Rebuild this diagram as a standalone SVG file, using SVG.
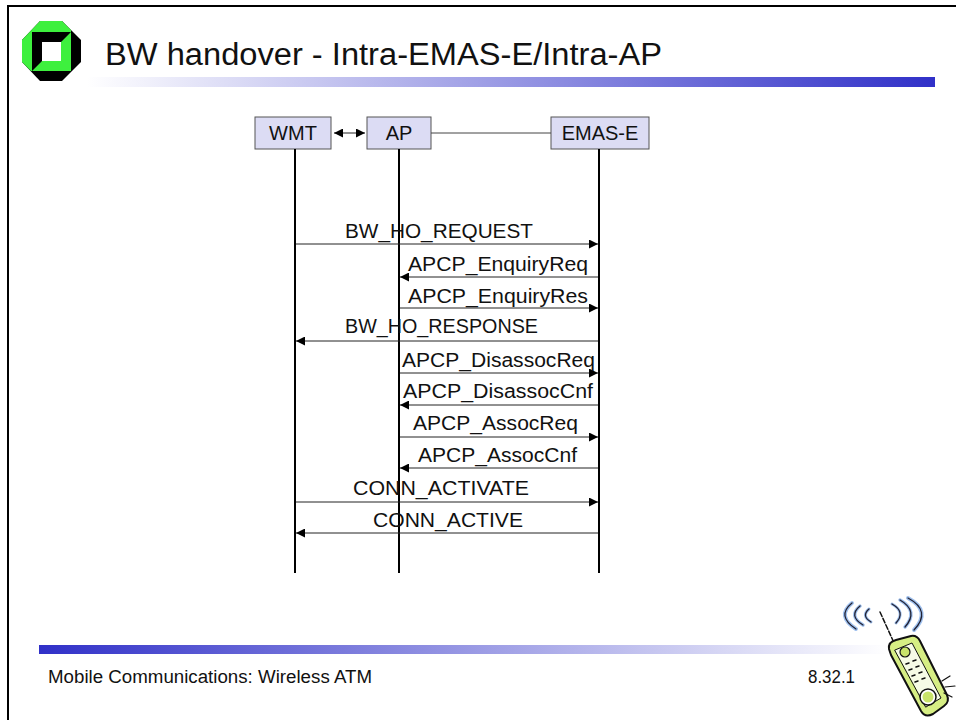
<svg xmlns="http://www.w3.org/2000/svg" width="956" height="720" viewBox="0 0 956 720">
  <style>
    .lbl { font-family: "Liberation Sans", Arial, sans-serif; font-size: 20px; fill: #111; }
    .box { fill: #dcdcf4; stroke: #555; stroke-width: 1; }
    .life { stroke: #000; stroke-width: 2; }
    .msg { stroke: #222; stroke-width: 1; fill: none; marker-end: url(#ah); }
    .mtxt { font-family: "Liberation Sans", Arial, sans-serif; font-size: 20px; fill: #111; }
    .foot { font-family: "Liberation Sans", Arial, sans-serif; font-size: 18px; fill: #111; }
  </style>
  <defs>
    <marker id="ah" viewBox="0 0 10 10" refX="10" refY="5" markerWidth="10" markerHeight="9" markerUnits="userSpaceOnUse" orient="auto-start-reverse">
      <path d="M0,0 L10,5 L0,10 z" fill="#000"/>
    </marker>
    <linearGradient id="topbar" x1="0" y1="0" x2="1" y2="0">
      <stop offset="0" stop-color="#ffffff"/>
      <stop offset="1" stop-color="#3030c8"/>
    </linearGradient>
    <linearGradient id="footbar" x1="0" y1="0" x2="1" y2="0">
      <stop offset="0" stop-color="#3030c8"/>
      <stop offset="1" stop-color="#ffffff"/>
    </linearGradient>
  </defs>

  <rect x="0" y="0" width="956" height="720" fill="#fff"/>

  <!-- slide frame -->
  <path d="M8,720 L8,6 L956,6" fill="none" stroke="#000" stroke-width="2"/>

  <!-- university logo -->
  <g id="logo">
    <polygon points="40,21 62,21 81,40 81,62 62,81 40,81 22,62 22,40" fill="#000"/>
    <polygon points="40,21 62,21 71,30 71,32 32,32 32,71 31,71 22,62 22,40" fill="#3ef03e"/>
    <polygon points="71,32 71,71 32,71 42,61 61,61 61,42" fill="#3ef03e"/>
    <rect x="42" y="42" width="19" height="19" fill="#fff"/>
  </g>

  <!-- title -->
  <text x="105" y="65" font-family="Liberation Sans, Arial, sans-serif" font-size="31" fill="#111" textLength="557" lengthAdjust="spacingAndGlyphs">BW handover - Intra-EMAS-E/Intra-AP</text>
  <rect x="87" y="77" width="848" height="10" fill="url(#topbar)"/>

  <!-- participants -->
  <g id="WMT">
    <rect class="box" x="255" y="117" width="76" height="32"/>
    <text class="lbl" x="293" y="140" text-anchor="middle">WMT</text>
    <line class="life" x1="295" y1="149" x2="295" y2="573"/>
  </g>
  <g id="AP">
    <rect class="box" x="367" y="117" width="64" height="32"/>
    <text class="lbl" x="399" y="140" text-anchor="middle">AP</text>
    <line class="life" x1="399" y1="149" x2="399" y2="573"/>
  </g>
  <g id="EMAS-E">
    <rect class="box" x="551" y="117" width="98" height="32"/>
    <text class="lbl" x="600" y="140" text-anchor="middle">EMAS-E</text>
    <line class="life" x1="599" y1="149" x2="599" y2="573"/>
  </g>

  <!-- connectors -->
  <g id="connectors">
    <line x1="334" y1="133" x2="365" y2="133" stroke="#222" stroke-width="1" marker-start="url(#ah)" marker-end="url(#ah)"/>
    <line x1="431" y1="133" x2="551" y2="133" stroke="#444" stroke-width="1"/>

    <line class="msg" x1="296" y1="244" x2="598" y2="244"/>
    <text class="mtxt" x="345" y="238" textLength="188" lengthAdjust="spacingAndGlyphs">BW_HO_REQUEST</text>

    <line class="msg" x1="598" y1="277" x2="400" y2="277"/>
    <text class="mtxt" x="408" y="271" textLength="180" lengthAdjust="spacingAndGlyphs">APCP_EnquiryReq</text>

    <line class="msg" x1="400" y1="308" x2="598" y2="308"/>
    <text class="mtxt" x="408" y="303" textLength="180" lengthAdjust="spacingAndGlyphs">APCP_EnquiryRes</text>

    <line class="msg" x1="598" y1="341" x2="296" y2="341"/>
    <text class="mtxt" x="345" y="333" textLength="193" lengthAdjust="spacingAndGlyphs">BW_HO_RESPONSE</text>

    <line class="msg" x1="400" y1="373" x2="598" y2="373"/>
    <text class="mtxt" x="402" y="367" textLength="193" lengthAdjust="spacingAndGlyphs">APCP_DisassocReq</text>

    <line class="msg" x1="598" y1="405" x2="400" y2="405"/>
    <text class="mtxt" x="403" y="398" textLength="190" lengthAdjust="spacingAndGlyphs">APCP_DisassocCnf</text>

    <line class="msg" x1="400" y1="437" x2="598" y2="437"/>
    <text class="mtxt" x="413" y="430" textLength="165" lengthAdjust="spacingAndGlyphs">APCP_AssocReq</text>

    <line class="msg" x1="598" y1="468" x2="400" y2="468"/>
    <text class="mtxt" x="418" y="462" textLength="159" lengthAdjust="spacingAndGlyphs">APCP_AssocCnf</text>

    <line class="msg" x1="296" y1="502" x2="598" y2="502"/>
    <text class="mtxt" x="353" y="495" textLength="176" lengthAdjust="spacingAndGlyphs">CONN_ACTIVATE</text>

    <line class="msg" x1="598" y1="533" x2="296" y2="533"/>
    <text class="mtxt" x="373" y="527" textLength="150" lengthAdjust="spacingAndGlyphs">CONN_ACTIVE</text>
  </g>

  <!-- footer -->
  <rect x="39" y="645" width="850" height="9" fill="url(#footbar)"/>
  <text class="foot" x="48" y="683" textLength="324" lengthAdjust="spacingAndGlyphs">Mobile Communications: Wireless ATM</text>
  <text class="foot" x="808" y="683" textLength="47" lengthAdjust="spacingAndGlyphs">8.32.1</text>

  <!-- handset clipart -->
  <g id="handset" stroke-linecap="round" stroke-linejoin="round">
    <!-- radio waves -->
    <path d="M852,603 Q836,616 856,629" fill="none" stroke="#9fc0ee" stroke-width="4"/>
    <path d="M852,603 Q836,616 856,629" fill="none" stroke="#223" stroke-width="1.3"/>
    <path d="M860,606 Q848,616 863,625" fill="none" stroke="#9fc0ee" stroke-width="3.5"/>
    <path d="M860,606 Q848,616 863,625" fill="none" stroke="#223" stroke-width="1.3"/>
    <path d="M869,609 Q861,616 871,622" fill="none" stroke="#9fc0ee" stroke-width="3"/>
    <path d="M869,609 Q861,616 871,622" fill="none" stroke="#223" stroke-width="1.3"/>
    <path d="M892,604 Q906,612 896,623" fill="none" stroke="#9fc0ee" stroke-width="3"/>
    <path d="M892,604 Q906,612 896,623" fill="none" stroke="#223" stroke-width="1.3"/>
    <path d="M900,600 Q919,611 905,627" fill="none" stroke="#9fc0ee" stroke-width="3.5"/>
    <path d="M900,600 Q919,611 905,627" fill="none" stroke="#223" stroke-width="1.3"/>
    <path d="M908,598 Q932,611 914,630" fill="none" stroke="#9fc0ee" stroke-width="4"/>
    <path d="M908,598 Q932,611 914,630" fill="none" stroke="#223" stroke-width="1.3"/>
    <!-- antenna -->
    <path d="M880,612 L895,645" fill="none" stroke="#111" stroke-width="1.5" stroke-dasharray="5,2"/>
    <!-- body -->
    <path d="M889,649 Q888,642 896,640 L911,636 Q917,635 920,641 L947,695 Q950,702 944,706 L933,714 Q925,718 921,711 L891,655 Z" fill="#d6ee84" stroke="#111" stroke-width="2"/>
    <path d="M895,650 L912,643 L941,698 L926,707 Z" fill="#f6fbe6" stroke="#111" stroke-width="1"/>
    <circle cx="905" cy="652" r="5" fill="#c8e36a" stroke="#111" stroke-width="1.2"/>
    <g fill="none" stroke="#111" stroke-width="1.5">
      <path d="M906,664 l3,-1 M913,661 l3,-1"/>
      <path d="M909,670 l3,-1 M916,667 l3,-1"/>
      <path d="M912,676 l3,-1 M919,673 l3,-1"/>
      <path d="M915,682 l3,-1 M922,679 l3,-1"/>
    </g>
    <circle cx="928" cy="697" r="8" fill="#fff" stroke="#111" stroke-width="1.5"/>
    <circle cx="928" cy="697" r="5.5" fill="#c8e36a"/>
    <!-- ringing marks -->
    <path d="M942,681 L950,676 M945,687 L955,686 M944,693 L952,697" fill="none" stroke="#111" stroke-width="1.2"/>
  </g>
</svg>
